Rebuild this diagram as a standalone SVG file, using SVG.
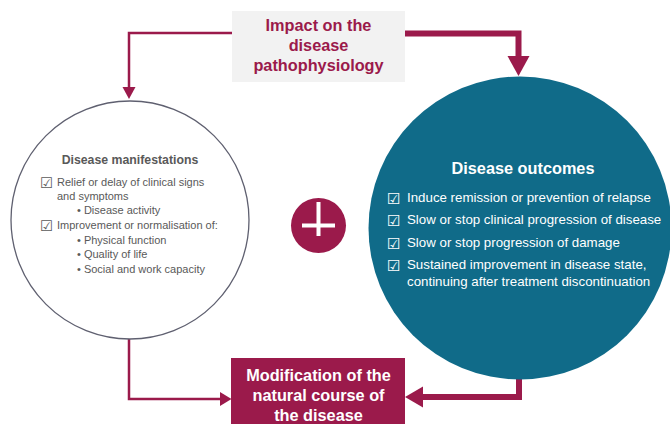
<svg xmlns="http://www.w3.org/2000/svg" width="670" height="424" viewBox="0 0 670 424">
  <style>
    .maroon{fill:#9b1a4b}
    .ln{fill:none;stroke:#9b1a4b;stroke-linejoin:miter}
    .thin{stroke-width:2.5}
    .thick{stroke-width:6}
    .hdr{font-family:"Liberation Sans",Arial,sans-serif;font-weight:bold;font-size:16.3px;text-anchor:middle}
    .gt{font-family:"Liberation Sans",Arial,sans-serif;font-size:11px;fill:#595959}
    .wt{font-family:"Liberation Sans",Arial,sans-serif;font-size:13.3px;fill:#ffffff}
    .cb{font-family:"DejaVu Sans",sans-serif}
  </style>
  <rect width="670" height="424" fill="#ffffff"/>
  <g id="connectors">
    <polyline class="ln thin" points="232,33 129,33 129,89"/>
    <polygon class="maroon" points="122.5,87 135.5,87 129,99"/>
    <polyline class="ln thick" points="405,33.5 518.5,33.5 518.5,58"/>
    <polygon class="maroon" points="507.5,56 529.5,56 518.5,76"/>
    <polyline class="ln thin" points="129,339 129,399 222,399"/>
    <polygon class="maroon" points="220,392 220,406 231.5,399"/>
    <polyline class="ln thick" points="519,379 519,397 421,397"/>
    <polygon class="maroon" points="423,386.5 423,407.5 405,397"/>
  </g>
  <g id="impact">
    <rect x="232" y="11" width="173" height="71" fill="#f2f2f2"/>
    <text class="hdr maroon" x="318.5" y="31">Impact on the</text>
    <text class="hdr maroon" x="318.5" y="51">disease</text>
    <text class="hdr maroon" x="318.5" y="71">pathophysiology</text>
  </g>
  <g id="manifestations">
    <circle cx="130" cy="220" r="119" fill="#ffffff" stroke="#5f6070" stroke-width="1.3"/>
    <text x="130" y="164" text-anchor="middle" style="font-family:'Liberation Sans',Arial,sans-serif;font-weight:bold;font-size:12.3px;fill:#595959">Disease manifestations</text>
    <text class="gt cb" x="40" y="188" style="font-size:14.5px">☑</text>
    <text class="gt" x="57" y="186">Relief or delay of clinical signs</text>
    <text class="gt" x="57" y="200">and symptoms</text>
    <text class="gt" x="77" y="214">• Disease activity</text>
    <text class="gt cb" x="40" y="231" style="font-size:14.5px">☑</text>
    <text class="gt" x="57" y="229">Improvement or normalisation of:</text>
    <text class="gt" x="77" y="244">• Physical function</text>
    <text class="gt" x="77" y="258">• Quality of life</text>
    <text class="gt" x="77" y="273">• Social and work capacity</text>
  </g>
  <g id="plus">
    <circle cx="318.5" cy="225.5" r="27.5" fill="#9b1a4b"/>
    <rect x="302" y="223.5" width="33" height="4" fill="#ffffff"/>
    <rect x="316.5" y="202" width="4" height="34" fill="#ffffff"/>
  </g>
  <g id="outcomes">
    <circle cx="520" cy="228" r="151.5" fill="#106b89"/>
    <text class="hdr" x="523" y="174" fill="#ffffff">Disease outcomes</text>
    <text class="wt cb" x="387" y="204" style="font-size:15.5px">☑</text>
    <text class="wt" x="407" y="202">Induce remission or prevention of relapse</text>
    <text class="wt cb" x="387" y="226" style="font-size:15.5px">☑</text>
    <text class="wt" x="407" y="224">Slow or stop clinical progression of disease</text>
    <text class="wt cb" x="387" y="249" style="font-size:15.5px">☑</text>
    <text class="wt" x="407" y="247">Slow or stop progression of damage</text>
    <text class="wt cb" x="387" y="271" style="font-size:15.5px">☑</text>
    <text class="wt" x="407" y="269">Sustained improvement in disease state,</text>
    <text class="wt" x="407" y="286">continuing after treatment discontinuation</text>
  </g>
  <g id="modification">
    <rect x="231" y="358" width="174" height="66" fill="#9b1a4b"/>
    <text class="hdr" x="318.5" y="381" fill="#ffffff">Modification of the</text>
    <text class="hdr" x="318.5" y="401" fill="#ffffff">natural course of</text>
    <text class="hdr" x="318.5" y="421" fill="#ffffff">the disease</text>
  </g>
</svg>
